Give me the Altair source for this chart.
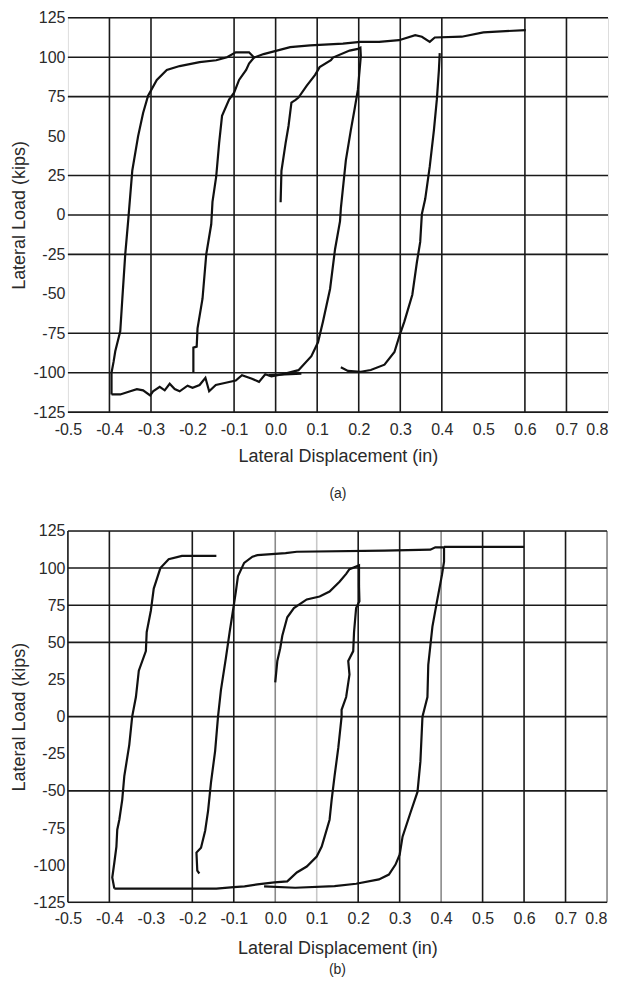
import altair as alt
import pandas as pd

# ---------------- axis ticks ----------------
x_ticks = [-0.5, -0.4, -0.3, -0.2, -0.1, 0.0, 0.1, 0.2, 0.3, 0.4, 0.5, 0.6, 0.7, 0.8]
y_ticks = [125, 100, 75, 50, 25, 0, -25, -50, -75, -100, -125]

# ---------------- grid lines ----------------
a_vgrid = [-0.4, -0.3, -0.1, 0.0, 0.1, 0.2, 0.3, 0.4, 0.6, 0.7]
a_hgrid = [125, 100, 75, 25, 0, -25, -75, -100, -125]
b_vgrid_dark = [-0.5, -0.4, -0.2, -0.1, 0.2, 0.3, 0.5, 0.6, 0.7]
b_vgrid_mid = [0.0, 0.4, 0.8]
b_vgrid_light = [0.1]
b_hgrid = [125, 100, 75, 50, 0, -50, -125]

# ---------------- panel (a) curves ----------------
a1_x = [0.012, 0.014, 0.024, 0.031, 0.038, 0.048, 0.055, 0.075, 0.095, 0.106, 0.133, 0.138, 0.178, 0.198, 0.204,
        0.205, 0.198, 0.19, 0.181, 0.169, 0.157, 0.155, 0.143, 0.131, 0.114,
        0.102, 0.086, 0.055, 0.023, -0.01, -0.025, -0.04, -0.057, -0.081, -0.096,
        -0.12, -0.144, -0.16, -0.169, -0.183, -0.2, -0.212, -0.231, -0.243, -0.255,
        -0.267, -0.279, -0.295, -0.302, -0.319, -0.334, -0.35, -0.374, -0.395]
a1_y = [8, 28, 45.5, 56.4, 71.2, 73, 74.4, 82, 88.8, 93.7, 98.1, 99.8, 104.2, 105.3, 106,
        100.6, 79.4, 67, 53.8, 34.6, 4.2, -3.9, -21.7, -46.9, -67.5,
        -80.7, -89.5, -98.4, -100.6, -102.4, -101, -105.8, -103.8, -101.6, -105,
        -106.4, -107.8, -111.8, -103.2, -107.8, -109.6, -108.2, -111.8, -110.4, -107,
        -111.2, -109, -111.8, -114.4, -111.2, -110.4, -111.8, -113.8, -113.8]

a2_x = [-0.395, -0.395, -0.39, -0.386, -0.374, -0.369, -0.362, -0.355, -0.345, -0.331, -0.319,
        -0.307, -0.286, -0.262, -0.231, -0.183, -0.143, -0.117, -0.096, -0.064, -0.052,
        -0.029, 0.035, 0.083, 0.162, 0.204, 0.249, 0.297, 0.336, 0.352, 0.371,
        0.383, 0.448, 0.5, 0.602]
a2_y = [-113.8, -100, -93, -86.4, -73.8, -53.1, -25, -3.9, 28.2, 50, 64.7,
        75.6, 85.6, 91.9, 94.4, 96.9, 98.1, 100, 103.1, 103.1, 99.8,
        102, 106.4, 107.5, 108.6, 109.7, 109.7, 110.8, 114, 113, 109.7,
        112.5, 113, 115.8, 117.2]

a3_x = [-0.052, -0.064, -0.071, -0.088, -0.1, -0.112, -0.129, -0.136, -0.143, -0.152, -0.155,
        -0.167, -0.176, -0.188, -0.19, -0.198, -0.198]
a3_y = [99.8, 96, 91.9, 85.6, 77.5, 73.1, 62.8, 45.5, 24.4, 8.3, -5.9,
        -25, -53.1, -71.9, -83.5, -84.1, -100]

a4_x = [0.395, 0.393, 0.388, 0.381, 0.371, 0.36, 0.352, 0.348, 0.34, 0.329, 0.31, 0.298,
        0.286, 0.262, 0.229, 0.205, 0.174, 0.157]
a4_y = [102.6, 91.9, 73.1, 53.8, 30.8, 10.1, 0.6, -17.1, -30, -50.6, -67.5, -76.7,
        -86.9, -94.9, -98.3, -99.4, -98.9, -96.6]

a5_x = [-0.017, 0.062]
a5_y = [-101.5, -100.6]

# ---------------- panel (b) curves ----------------
b1_x = [0.0, 0.005, 0.012, 0.017, 0.029, 0.045, 0.069, 0.076, 0.107, 0.131, 0.155, 0.171, 0.179, 0.202,
        0.202, 0.203, 0.195, 0.19, 0.188, 0.176, 0.179, 0.171, 0.16, 0.16,
        0.152, 0.143, 0.136, 0.131, 0.117, 0.112, 0.1, 0.076, 0.052, 0.029,
        -0.002, -0.043, -0.074, -0.1, -0.142, -0.388]
b1_y = [23, 37.5, 46, 54.4, 66.9, 73.1, 77.6, 78.9, 80.9, 84.2, 90.8, 96.1, 99.3, 101.8,
        88, 77.6, 73.1, 56.9, 44.1, 37.5, 28.3, 13.2, 4.6, 0,
        -21.1, -40.1, -56, -69.4, -82.8, -87.5, -94.2, -100.9, -104.9, -110.9,
        -111.6, -112.9, -114.3, -114.8, -115.8, -115.8]

b2_x = [-0.388, -0.393, -0.388, -0.383, -0.381, -0.376, -0.369, -0.364, -0.352, -0.345,
        -0.336, -0.329, -0.312, -0.31, -0.3, -0.293, -0.277, -0.257, -0.225, -0.142]
b2_y = [-115.8, -108.3, -98.2, -87.5, -76.1, -69.4, -56, -40.1, -19, 0,
        13.2, 30.9, 44.1, 56.9, 71.3, 86.2, 100, 105.9, 108.2, 108.2]

b3_x = [-0.183, -0.188, -0.19, -0.179, -0.169, -0.162, -0.155, -0.145, -0.138, -0.131,
        -0.119, -0.11, -0.102, -0.095, -0.09, -0.075, -0.055, -0.043, 0.025, 0.052,
        0.263, 0.374, 0.386, 0.407,
        0.407, 0.402, 0.39, 0.379, 0.369, 0.367, 0.355, 0.35, 0.343, 0.326,
        0.307, 0.3, 0.29, 0.274, 0.25, 0.195, 0.143, 0.048, -0.027]
b3_y = [-105.6, -103.6, -91.5, -88.2, -76.8, -63.4, -44.4, -23.2, 0, 17.8,
        39.5, 56.9, 71.3, 84.2, 94.5, 103.5, 107.7, 108.7, 110.1, 111,
        111.7, 112.4, 114, 114,
        104.3, 95.4, 77.6, 60.6, 34.9, 13.2, 0, -30.3, -50.7, -64.7,
        -80.8, -92.9, -99.6, -106.3, -109.6, -112.5, -114.1, -115.2, -114.3]

b4_x = [0.407, 0.6]
b4_y = [114.3, 114.3]

X_TITLE = "Lateral Displacement (in)"
Y_TITLE = "Lateral Load (kips)"
FONT = "Liberation Sans"
INK = "#111111"
GRID = "#1a1a1a"
TXT = "#2a2a2a"


def curves_frame(curves):
    rows = []
    for name, (xs, ys) in curves.items():
        assert len(xs) == len(ys), name
        for i, (x, y) in enumerate(zip(xs, ys)):
            rows.append({"s": name, "i": i, "x": x, "y": y})
    return pd.DataFrame(rows)


def panel(curves, vgrids, hgrid, w, h, caption, label_pad, title_pad, cap_offset):
    xs = alt.Scale(domain=[-0.5, 0.8], nice=False, zero=False)
    ys = alt.Scale(domain=[-125, 125], nice=False, zero=False)
    xaxis = alt.Axis(values=x_ticks, title=X_TITLE, grid=False, ticks=False, domain=False,
                     labelExpr="(datum.value < -0.0001 ? '-' : '') + format(abs(datum.value), '.1f')",
                     labelAlign={"condition": {"test": "datum.value > 0.75", "value": "right"},
                                 "value": "center"},
                     labelFontSize=16, titleFontSize=18, titleFontWeight="normal",
                     labelPadding=label_pad, titlePadding=title_pad, labelFlush=False,
                     labelOverlap=False, labelColor=TXT, titleColor=TXT)
    yaxis = alt.Axis(values=y_ticks, title=Y_TITLE, grid=False, ticks=False, domain=False,
                     labelExpr="(datum.value < 0 ? '-' : '') + format(abs(datum.value), 'd')",
                     labelFontSize=16, titleFontSize=18, titleFontWeight="normal",
                     labelPadding=3, titlePadding=4, labelOverlap=False,
                     labelColor=TXT, titleColor=TXT)
    layers = []
    for vals, col in vgrids:
        layers.append(alt.Chart(pd.DataFrame({"gx": vals})).mark_rule(color=col, strokeWidth=1.6)
                      .encode(x=alt.X("gx:Q", scale=xs, axis=xaxis)))
    layers.append(alt.Chart(pd.DataFrame({"gy": hgrid})).mark_rule(color=GRID, strokeWidth=1.6)
                  .encode(y=alt.Y("gy:Q", scale=ys, axis=yaxis)))
    layers.append(alt.Chart(curves_frame(curves)).mark_line(color=INK, strokeWidth=2.2)
                  .encode(x=alt.X("x:Q", scale=xs, axis=xaxis),
                          y=alt.Y("y:Q", scale=ys, axis=yaxis),
                          detail="s:N", order="i:Q"))
    return alt.layer(*layers).properties(
        width=w, height=h,
        title=alt.TitleParams(caption, orient="bottom", anchor="middle", frame="group",
                              fontSize=14, fontWeight="normal", color=TXT, offset=cap_offset))


pa = panel({"a1": (a1_x, a1_y), "a2": (a2_x, a2_y), "a3": (a3_x, a3_y),
            "a4": (a4_x, a4_y), "a5": (a5_x, a5_y)},
           [(a_vgrid, GRID)], a_hgrid, 541, 395, "(a)", 9, 10, 22)
pb = panel({"b1": (b1_x, b1_y), "b2": (b2_x, b2_y), "b3": (b3_x, b3_y), "b4": (b4_x, b4_y)},
           [(b_vgrid_dark, GRID), (b_vgrid_mid, "#8a8a8a"), (b_vgrid_light, "#c8c8c8")],
           b_hgrid, 540, 372, "(b)", 8, 13, 6)

chart = alt.vconcat(pa, pb, spacing=20).properties(
    padding={"left": 2, "top": 0, "right": 0, "bottom": -1}
).configure_view(stroke=None).configure(font=FONT)

chart.save("out.html", embed_options={"renderer": "svg", "actions": False})
